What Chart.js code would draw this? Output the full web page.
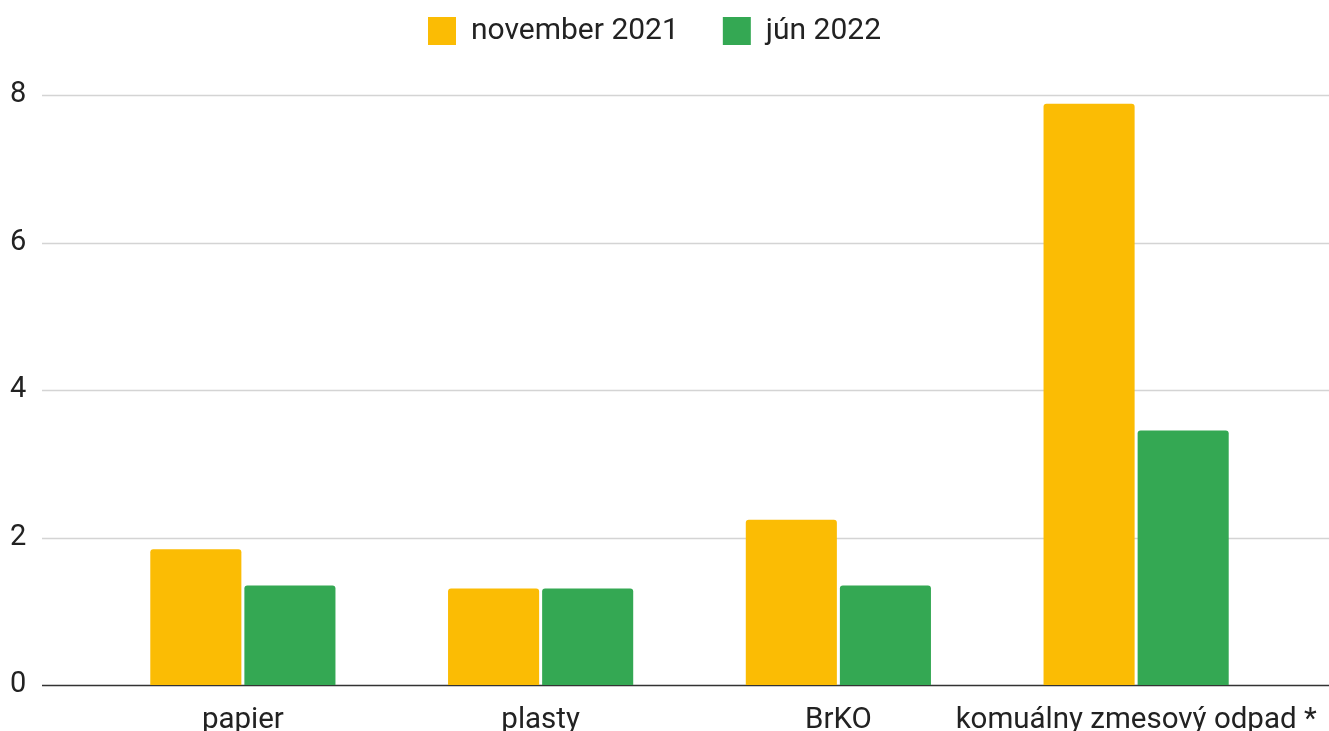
<!DOCTYPE html>
<html>
<head>
<meta charset="utf-8">
<script src="https://cdn.jsdelivr.net/npm/chart.js@4"></script>
<style>
  html, body { margin: 0; padding: 0; background: #fff; }
  #wrap { width: 1329px; height: 731px; }
</style>
</head>
<body>
<div id="wrap"><canvas id="wasteChart"></canvas></div>
<script>
const categories = ["papier", "plasty", "BrKO", "komuálny zmesový odpad *"];
const nov2021 = [1.84, 1.31, 2.24, 7.88];
const jun2022 = [1.35, 1.31, 1.35, 3.45];
const seriesNames = ["november 2021", "jún 2022"];
const yTicks = [0, 2, 4, 6, 8];

// horizontal grid across the full width, like the original
const wideGrid = {
    id: 'wideGrid',
    beforeDatasetsDraw(chart) {
        const ctx = chart.ctx;
        const y = chart.scales.y;
        ctx.save();
        yTicks.forEach(function(t) {
            const py = Math.round(y.getPixelForValue(t)) + 0.5;
            ctx.beginPath();
            ctx.strokeStyle = t === 0 ? '#333333' : '#d4d4d4';
            ctx.lineWidth = 1.5;
            ctx.moveTo(42, py);
            ctx.lineTo(chart.width, py);
            ctx.stroke();
        });
        ctx.restore();
    }
};

// legend: fixed height so the plot starts lower, nudged a bit right
const legendTweak = {
    id: 'legendTweak',
    beforeInit(chart) {
        const origFit = chart.legend.fit;
        chart.legend.fit = function() {
            origFit.call(this);
            this.height = 123;
        };
    },
    afterLayout(chart) {
        chart.legend.left += 7;
        chart.legend.right += 7;
    }
};

const ctx = document.getElementById('wasteChart').getContext('2d');
new Chart(ctx, {
    type: 'bar',
    data: {
        labels: categories,
        datasets: [
            {
                label: seriesNames[0],
                data: nov2021,
                backgroundColor: '#fbbc04',
                borderRadius: 3,
                borderSkipped: 'bottom'
            },
            {
                label: seriesNames[1],
                data: jun2022,
                backgroundColor: '#34a853',
                borderRadius: 3,
                borderSkipped: 'bottom'
            }
        ]
    },
    options: {
        responsive: true,
        maintainAspectRatio: false,
        animation: false,
        datasets: {
            bar: { categoryPercentage: 0.632, barPercentage: 0.968 }
        },
        layout: { padding: { left: 10, right: 44, top: -28, bottom: 0 } },
        plugins: {
            tooltip: { enabled: false },
            legend: {
                position: 'top',
                labels: {
                    font: { family: 'Roboto', size: 30 },
                    color: '#222222',
                    boxWidth: 28,
                    boxHeight: 28,
                    padding: 44
                }
            }
        },
        scales: {
            x: {
                grid: { display: false },
                border: { display: false },
                afterFit(scale) {
                    scale.height = 46;
                    scale.paddingLeft = 0;
                    scale.paddingRight = 0;
                },
                ticks: {
                    font: { family: 'Roboto', size: 29.5 },
                    color: '#222222',
                    padding: 10,
                    maxRotation: 0,
                    autoSkip: false
                }
            },
            y: {
                min: 0,
                max: 8,
                grid: { display: false },
                border: { display: false },
                afterFit(scale) { scale.width = 84; },
                ticks: {
                    stepSize: 2,
                    crossAlign: 'far',
                    font: { family: 'Roboto', size: 29 },
                    color: '#222222'
                }
            }
        }
    },
    plugins: [wideGrid, legendTweak]
});
</script>
</body>
</html>
